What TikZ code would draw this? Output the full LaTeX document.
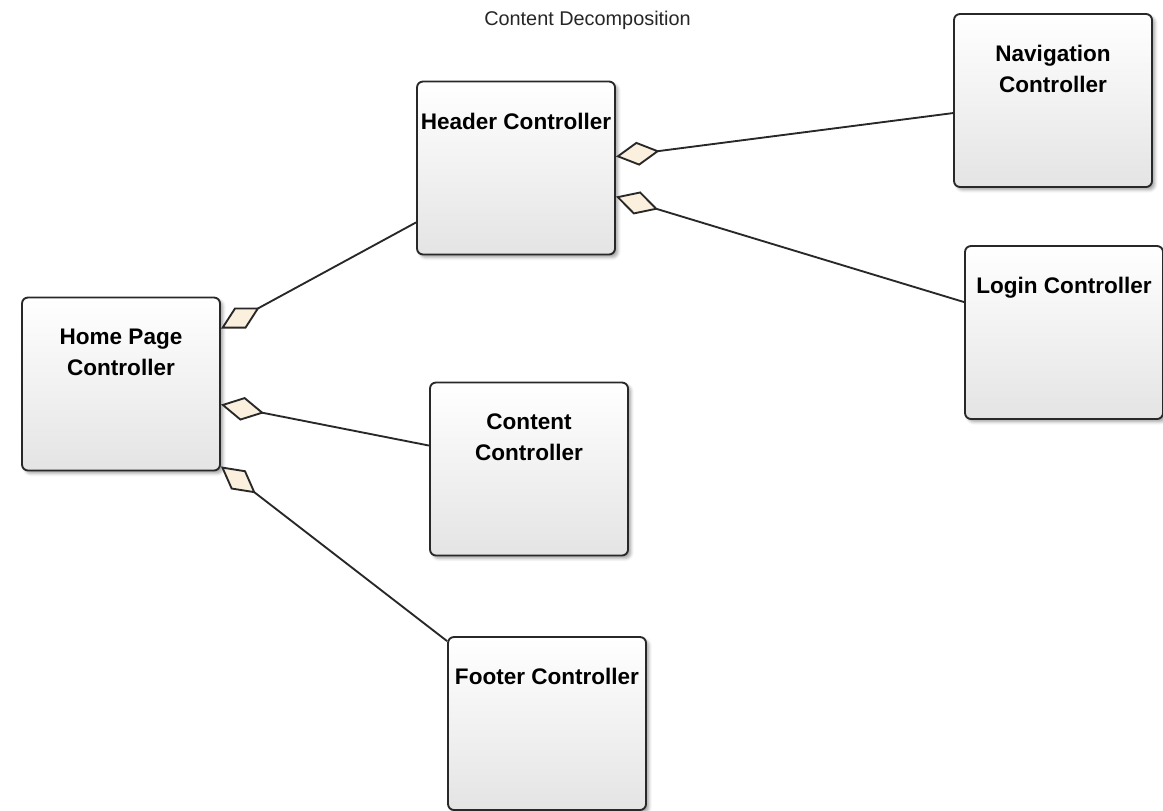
\documentclass[tikz,border=0pt]{standalone}
\usepackage{fontspec}
\setmainfont{Liberation Sans}
\usetikzlibrary{arrows.meta,shadows.blur}

\definecolor{edgegray}{RGB}{40,40,40}
\definecolor{diafill}{RGB}{251,239,221}
\definecolor{boxbottom}{RGB}{228,228,228}

\tikzset{
  ctrl/.style={
    draw=edgegray, line width=1.4pt, rounded corners=4.5pt,
    top color=white, bottom color=boxbottom,
    minimum width=148.5pt, minimum height=129.75pt, inner sep=0pt,
    blur shadow={shadow xshift=2.2pt, shadow yshift=-2.2pt,
                 shadow blur radius=2.2pt, shadow opacity=35}
  },
  ctrltext/.style={
    anchor=north, yshift=-24pt, inner sep=0pt, align=center,
    font=\fontsize{16.9}{23.25}\selectfont\bfseries, text=black
  },
  assoc/.style={
    draw=edgegray, line width=1.4pt,
    {Diamond[length=33pt,width=18pt,fill=diafill,line join=miter]}-
  }
}

\begin{document}
\begin{tikzpicture}[x=0.75pt,y=-0.75pt]
  \useasboundingbox (0,0) rectangle (1163,810);

  % title
  \node[font=\fontsize{14.9}{18}\selectfont, text=black!85, inner sep=0pt]
    (title) at (587.5,20) {Content Decomposition};

  % controllers
  \node[ctrl, label={[ctrltext]north:Header Controller}] (header) at (516,168) {};
  \node[ctrl, label={[ctrltext]north:{Navigation\\Controller}}] (nav) at (1053,100.5) {};
  \node[ctrl, label={[ctrltext]north:Login Controller}] (login) at (1064,332.5) {};
  \node[ctrl, label={[ctrltext]north:{Home Page\\Controller}}] (home) at (121,384) {};
  \node[ctrl, label={[ctrltext]north:{Content\\Controller}}] (content) at (529,469) {};
  \node[ctrl, label={[ctrltext]north:Footer Controller}] (footer) at (547,723.5) {};

  % aggregations (diamond on the owning controller)
  \draw[assoc] ([yshift=-24pt]home.north east) -- ([yshift=24.75pt]header.south west);
  \draw[assoc] ([yshift=-81pt]home.north east) -- ([yshift=-48pt]content.north west);
  \draw[assoc] ([yshift=3.75pt]home.south east) -- ([yshift=-3.75pt]footer.north west);
  \draw[assoc] ([yshift=-57pt]header.north east) -- ([yshift=-75pt]nav.north west);
  \draw[assoc] ([yshift=-87pt]header.north east) -- ([yshift=-42.75pt]login.north west);
\end{tikzpicture}
\end{document}
